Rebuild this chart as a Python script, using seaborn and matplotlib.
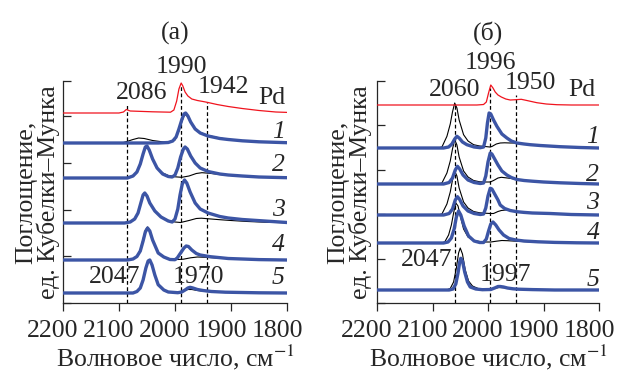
import numpy as np
import seaborn as sns
import matplotlib
matplotlib.use("Agg")
import matplotlib.pyplot as plt
from matplotlib.transforms import ScaledTranslation

# ---------------- data (heights above each curve's own baseline) ----------------
# panel (a)
a_pd_wn = [2200, 2100, 2092, 2087, 2080, 2040, 2008, 2002, 1997, 1993, 1989, 1986, 1982, 1977,
           1970, 1960, 1950, 1941, 1925, 1905, 1880, 1850, 1820, 1800]
a_pd_h = [0, 0, 1, 3.5, 2, 1.2, 0.8, 3, 12, 24, 30, 27, 21, 17,
          14, 12.5, 11.5, 10.5, 8.5, 6.5, 4.5, 2.5, 1, 0.6]

a_blue_wn = [
    [2200, 2030, 2012, 2004, 1998, 1993, 1988, 1984, 1981, 1977, 1972, 1964, 1955, 1941, 1920,
     1905, 1880, 1850, 1800],
    [2200, 2085, 2075, 2068, 2062, 2057, 2053, 2050, 2046, 2040, 2032, 2022, 2012, 2005, 2000,
     1995, 1990, 1985, 1982, 1978, 1972, 1964, 1955, 1941, 1920, 1905, 1880, 1850, 1800],
    [2200, 2090, 2080, 2072, 2066, 2061, 2057, 2054, 2050, 2045, 2036, 2025, 2012, 2005, 2000,
     1995, 1991, 1987, 1983, 1979, 1973, 1964, 1955, 1941, 1920, 1905, 1880, 1848, 1800],
    [2200, 2085, 2075, 2068, 2062, 2057, 2053, 2049, 2045, 2040, 2030, 2020, 2009, 2000, 1996,
     1990, 1984, 1980, 1976, 1970, 1962, 1955, 1937, 1905, 1850, 1800],
    [2200, 2075, 2068, 2062, 2057, 2052, 2048, 2045, 2041, 2036, 2030, 2020, 2012, 1995, 1988,
     1982, 1977, 1973, 1968, 1960, 1950, 1935, 1910, 1850, 1800],
]
a_blue_h = [
    [0, 0, 0.5, 2, 6, 14, 23, 29, 30, 27, 21, 14, 10, 7, 4.5, 3.5, 2.2, 1.2, 0.3],
    [0, 0, 2, 6, 14, 24, 31, 32, 28, 19, 10, 4, 1.5, 1, 3, 10, 21, 29, 31, 29, 22, 15, 10, 6.5,
     4, 3, 2, 1, 0.3],
    [0, 0, 1, 4, 10, 20, 28, 30, 27, 20, 12, 6, 2, 1, 4, 14, 28, 39, 43, 40, 31, 20, 14, 10,
     6.5, 5, 3.5, 2.3, 0.5],
    [0, 0, 1, 3.5, 9, 19, 28, 32, 29, 20, 7, 3, 0.5, 0.3, 2, 7, 12, 14, 13.5, 10, 6.5, 5, 3.3,
     1.5, 0.4, 0],
    [0, 0, 1.5, 5, 13, 25, 32, 33, 28, 18, 8.3, 3, 1, 0.3, 1, 3, 5, 5.7, 5, 3.5, 2.5, 1.5, 0.8,
     0.2, 0],
]
a_black_wn = [
    [2200, 2095, 2086, 2075, 2065, 2055, 2040, 2020, 2008, 2000, 1993, 1988, 1984, 1981, 1977,
     1972, 1964, 1955, 1941, 1920, 1905, 1880, 1850, 1800],
    [2200, 2085, 2075, 2068, 2062, 2057, 2053, 2050, 2046, 2040, 2032, 2022, 2012, 2000, 1988,
     1975, 1962, 1952, 1940, 1920, 1900, 1870, 1840, 1800],
    [2200, 2090, 2080, 2072, 2066, 2061, 2057, 2054, 2050, 2045, 2036, 2025, 2012, 2000, 1990,
     1975, 1962, 1953, 1940, 1920, 1900, 1870, 1840, 1800],
    [2200, 2085, 2075, 2068, 2062, 2057, 2053, 2049, 2045, 2040, 2030, 2020, 2009, 1995, 1985,
     1972, 1960, 1945, 1920, 1880, 1840, 1800],
    [2200, 2075, 2068, 2062, 2057, 2052, 2048, 2045, 2041, 2036, 2030, 2020, 2012, 1995, 1985,
     1977, 1970, 1960, 1945, 1920, 1860, 1800],
]
a_black_h = [
    [0, 0, 1.5, 3.5, 5, 4.5, 2.5, 1, 1, 3, 12, 21, 27, 28.5, 26, 21, 14.5, 10.5, 7.5, 5, 3.8,
     2.4, 1.3, 0.3],
    [0, 0, 2, 6, 14, 24, 31, 32, 28, 19, 10, 5, 2.5, 1.2, 0.7, 2, 4.5, 5.3, 4.8, 3.5, 2.5, 1.5,
     0.8, 0.3],
    [0, 0, 1, 4, 10, 20, 28, 30, 27, 20, 12, 6, 2.5, 1, 0.5, 2.5, 4.5, 4.8, 4.2, 3.3, 2.5, 1.5,
     0.8, 0.3],
    [0, 0, 1, 4, 10, 21, 30, 33, 29, 20, 7, 3, 1, 0.5, 0.8, 2.2, 3, 2.7, 1.8, 1, 0.4, 0],
    [0, 0, 1.5, 5, 13, 25, 32, 33, 28, 18, 8.3, 3, 1.2, 0.8, 2, 3.5, 3.5, 2.5, 1.5, 0.8, 0.2, 0],
]

# panel (б)
b_pd_wn = [2200, 2020, 2008, 2003, 1999, 1995, 1991, 1987, 1982, 1976, 1968, 1960, 1950, 1940,
           1930, 1912, 1895, 1876, 1850, 1800]
b_pd_h = [0, 0, 0.5, 3, 12, 20, 17, 13, 10, 8, 6, 5, 5.3, 5.7, 4.5, 2.3, 1, 0.3, 0, 0]

b_blue_wn = [
    [2200, 2080, 2071, 2065, 2060, 2056, 2052, 2046, 2038, 2025, 2014, 2008, 2004, 2001, 1998,
     1995, 1990, 1984, 1975, 1966, 1958, 1948, 1935, 1924, 1906, 1870, 1834, 1800],
    [2200, 2080, 2070, 2064, 2059, 2055, 2051, 2045, 2036, 2025, 2014, 2008, 2004, 2000, 1996,
     1993, 1988, 1982, 1975, 1966, 1958, 1948, 1935, 1920, 1900, 1870, 1834, 1800],
    [2200, 2080, 2070, 2064, 2059, 2055, 2051, 2045, 2036, 2025, 2014, 2008, 2004, 2000, 1996,
     1993, 1988, 1982, 1978, 1970, 1960, 1948, 1935, 1920, 1888, 1850, 1800],
    [2200, 2080, 2072, 2066, 2061, 2057, 2053, 2049, 2043, 2035, 2025, 2015, 2008, 2003, 1999,
     1995, 1991, 1986, 1980, 1972, 1962, 1950, 1935, 1910, 1880, 1840, 1800],
    [2200, 2070, 2063, 2058, 2054, 2051, 2049, 2046, 2042, 2037, 2032, 2022, 2010, 1995, 1988,
     1982, 1978, 1972, 1965, 1955, 1945, 1920, 1880, 1800],
]
b_blue_h = [
    [0, 0, 1, 4, 9, 11.7, 10, 6, 3.3, 1, 0.3, 1, 10, 25, 35, 34, 28, 21.7, 14, 10, 7, 5, 4, 3.3,
     2.5, 1.3, 0.5, 0],
    [0, 0, 1.5, 6, 14, 17.7, 15, 9, 4, 1.5, 0.5, 1, 8, 22, 31, 30, 25, 19, 13, 9, 6.5, 4.5, 3.5,
     2.8, 2, 1.2, 0.5, 0],
    [0, 0, 1.5, 6, 15, 18.3, 15.5, 9, 4, 1.5, 0.5, 1, 7, 19, 26.7, 26, 21, 15, 10, 6.5, 4.5, 3.3,
     2.6, 2, 1.5, 0.5, 0],
    [0, 0, 1, 5, 14, 26, 32, 28, 17, 7, 2, 0.5, 0.5, 4, 12, 19, 21, 18, 13, 8, 4.5, 3, 2, 1.2,
     0.6, 0.2, 0],
    [0, 0, 1, 6, 17, 28, 31.7, 29, 18, 8, 3, 1, 0.3, 0.5, 2, 3.5, 3.5, 3, 2, 1.2, 0.8, 0.4, 0, 0],
]
b_black_wn = [
    [2200, 2090, 2083, 2074, 2068, 2064, 2060, 2056, 2052, 2044, 2036, 2026, 2015, 2005, 1997,
     1993, 1985, 1978, 1970, 1960, 1948, 1935, 1924, 1906, 1870, 1834, 1800],
    [2200, 2090, 2083, 2074, 2068, 2064, 2060, 2056, 2052, 2044, 2036, 2026, 2015, 2005, 1996,
     1990, 1982, 1976, 1968, 1958, 1948, 1935, 1920, 1900, 1870, 1834, 1800],
    [2200, 2090, 2083, 2074, 2068, 2064, 2060, 2056, 2052, 2044, 2036, 2026, 2015, 2005, 1996,
     1990, 1982, 1976, 1968, 1958, 1948, 1935, 1920, 1888, 1850, 1800],
    [2200, 2085, 2078, 2071, 2066, 2062, 2058, 2054, 2050, 2044, 2036, 2026, 2015, 2005, 1995,
     1985, 1975, 1965, 1950, 1920, 1880, 1840, 1800],
    [2200, 2075, 2068, 2062, 2057, 2053, 2050, 2046, 2041, 2035, 2028, 2018, 2005, 1992, 1980,
     1970, 1955, 1930, 1880, 1800],
]
b_black_h = [
    [0, 0, 1, 11.7, 24, 36, 45, 40, 28, 13.3, 7, 3.3, 2, 1.5, 1, 1.5, 4, 5, 5.2, 5, 5, 4, 3.3,
     2.5, 1.3, 0.5, 0],
    [0, 0, 1, 11, 23, 35, 44.3, 39, 27, 13, 7, 3.5, 2.2, 2, 2, 3.5, 6, 6.7, 6.2, 5.5, 4.5, 3.5,
     2.8, 2, 1.2, 0.5, 0],
    [0, 0, 1, 11, 23, 35, 44, 39, 27, 13, 7, 3.5, 2.2, 1.8, 1.5, 1.5, 3.5, 4.5, 5, 4.5, 3.5, 2.8,
     2.2, 1.5, 0.5, 0],
    [0, 0, 1, 8, 18, 30, 40, 37, 27, 14, 6, 2.5, 1.5, 1, 1, 1.8, 2.5, 2.3, 1.8, 1, 0.5, 0.2, 0],
    [0, 0, 1.5, 8, 22, 37, 42, 36, 20, 9, 4, 1.5, 0.7, 1.2, 2.5, 2.2, 1.2, 0.5, 0, 0],
]

# vertical stacking offsets (Pd on top, then 1..5)
a_pd_offset = 190
a_offsets = [160, 125, 80, 43, 10]
b_pd_offset = 198
b_offsets = [155, 119, 88, 60, 13]

# marked bands and the top of their dashed lines
a_bands = [2086, 1990, 1942]
a_band_top = [198, 218, 201]
b_bands = [2060, 1996, 1950]
b_band_top = [200, 215, 208]

curve_labels = ["1", "2", "3", "4", "5"]

# ---------------- style ----------------
sns.set_style("ticks")
plt.rcParams["font.family"] = ["Liberation Serif", "DejaVu Serif"]
plt.rcParams["mathtext.fontset"] = "stix"
FS = 18.5
plt.rcParams["font.size"] = FS

blue = "#3C55A5"
red = "#F0141E"

fig = plt.figure(figsize=(6.18, 3.76), dpi=100)
ax_a = fig.add_axes([63 / 618, 73 / 376, 224 / 618, 222 / 376])
ax_b = fig.add_axes([377 / 618, 73 / 376, 222 / 618, 222 / 376])


def draw_panel(ax, pd_wn, pd_h, pd_off, blue_wn, blue_h, black_wn, black_h, offsets,
               bands, band_top):
    for wn, h, off in zip(black_wn, black_h, offsets):
        sns.lineplot(x=wn, y=np.array(h) + off, ax=ax, color="black", linewidth=0.8,
                     estimator=None, zorder=2)
    ax.vlines(bands, 0, band_top, colors="black", linestyles=(0, (3, 2)), linewidth=0.9,
              zorder=3)
    for wn, h, off in zip(blue_wn, blue_h, offsets):
        sns.lineplot(x=wn, y=np.array(h) + off, ax=ax, color=blue, linewidth=2.4,
                     estimator=None, zorder=4)
    sns.lineplot(x=pd_wn, y=np.array(pd_h) + pd_off, ax=ax, color=red, linewidth=0.9,
                 estimator=None, zorder=4)

    ax.set_xlim(2200, 1800)
    ax.set_ylim(0, 222)
    ax.set_xticks([2200, 2100, 2000, 1900, 1800])
    ax.tick_params(axis="x", direction="out", length=6, width=0.9, pad=6, labelsize=FS)
    ax.tick_params(axis="y", direction="in", length=6, width=0.9)
    # tick labels sit a little left of their ticks in the original
    shift = ScaledTranslation(-10 / 100, 0, fig.dpi_scale_trans)
    for lab in ax.get_xticklabels():
        lab.set_transform(lab.get_transform() + shift)
    sns.despine(ax=ax)
    for s in ["left", "bottom"]:
        ax.spines[s].set_linewidth(0.9)
    ax.set_xlabel("Волновое число, см$^{-1}$", fontsize=FS, labelpad=1)
    ax.set_ylabel("Поглощение,\nед. Кубелки–Мунка", fontsize=FS, linespacing=0.95)


draw_panel(ax_a, a_pd_wn, a_pd_h, a_pd_offset, a_blue_wn, a_blue_h, a_black_wn, a_black_h,
           a_offsets, a_bands, a_band_top)
draw_panel(ax_b, b_pd_wn, b_pd_h, b_pd_offset, b_blue_wn, b_blue_h, b_black_wn, b_black_h,
           b_offsets, b_bands, b_band_top)

ax_a.set_yticks([0, 46.7, 93.4, 140.1, 186.8, 222])
ax_b.set_yticks([0, 44.4, 88.8, 133.2, 177.6, 222])
ax_a.set_yticklabels([])
ax_b.set_yticklabels([])
ax_a.yaxis.set_label_coords(-0.012, 0.5)
ax_b.yaxis.set_label_coords(-0.022, 0.5)

# panel titles
ax_a.text(0.5, 1.215, "(а)", transform=ax_a.transAxes, ha="center", va="center", fontsize=FS)
ax_b.text(0.5, 1.215, "(б)", transform=ax_b.transAxes, ha="center", va="center", fontsize=FS)

# annotations panel (a)
txt = dict(ha="center", va="center", fontsize=FS, clip_on=False)
ax_a.text(1988, 236, "1990", **txt)
ax_a.text(2059, 210, "2086", **txt)
ax_a.text(1914, 216, "1942", **txt)
ax_a.text(1827, 205, "Pd", **txt)
ax_a.text(2107, 26, "2047", **txt)
ax_a.text(1959, 26, "1970", **txt)
for lab, y in zip(curve_labels, [171, 138, 93, 58, 25]):
    ax_a.text(1816, y, lab, style="italic", **txt)

# annotations panel (б)
ax_b.text(1995, 240, "1996", **txt)
ax_b.text(2060, 213, "2060", **txt)
ax_b.text(1924, 220, "1950", **txt)
ax_b.text(1831, 213, "Pd", **txt)
ax_b.text(2110, 43, "2047", **txt)
ax_b.text(1969, 28, "1997", **txt)
for lab, y in zip(curve_labels, [166, 128, 100, 70, 23]):
    ax_b.text(1811, y, lab, style="italic", **txt)

fig.savefig("out.png", dpi=100)
